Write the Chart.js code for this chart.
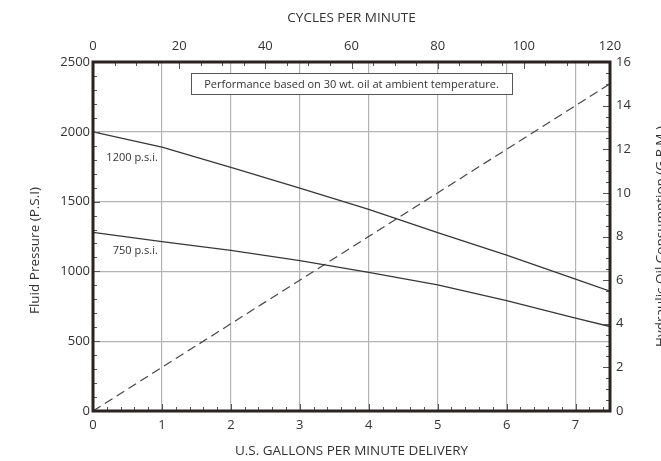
<!DOCTYPE html>
<html>
<head>
<meta charset="utf-8">
<script src="https://cdn.jsdelivr.net/npm/chart.js@4.4.1/dist/chart.umd.min.js"></script>
<style>
  html, body { margin: 0; padding: 0; background: #ffffff; }
  #wrap { width: 661px; height: 461px; }
</style>
</head>
<body>
<div id="wrap"><canvas id="c" width="661" height="461"></canvas></div>
<script>
// ---- data ----
const gpmPoints   = [0, 1, 2, 3, 4, 5, 6, 7, 7.5];
const psi1200     = [2000, 1890, 1745, 1597, 1444, 1277, 1117, 945, 858];
const psi750      = [1280, 1213, 1150, 1077, 993, 903, 790, 665, 605];
const cyclePoints = [0, 120];
const oilGPM      = [0, 15];
const bottomTicks = [0, 1, 2, 3, 4, 5, 6, 7];
const topTicks    = [0, 20, 40, 60, 80, 100, 120];
const leftTicks   = [0, 500, 1000, 1500, 2000, 2500];
const rightTicks  = [0, 2, 4, 6, 8, 10, 12, 14, 16];
const curveLabels = ['1200 p.s.i.', '750 p.s.i.'];
const noteText = 'Performance based on 30 wt. oil at ambient temperature.';
const titles = {
  top: 'CYCLES PER MINUTE',
  bottom: 'U.S. GALLONS PER MINUTE DELIVERY',
  left: 'Fluid Pressure (P.S.I)',
  right: 'Hydraulic Oil Consumption (G.P.M.)'
};

const FONT = '"Open Sans", "Noto Sans", sans-serif';
const INK = '#3a3636';
const TEXT = '#333333';

const toXY = (xs, ys) => xs.map((x, i) => ({x: x, y: ys[i]}));
const plain = (v) => String(v);

const overlay = {
  id: 'overlay',
  afterDraw(chart) {
    const ctx = chart.ctx;
    const a = chart.chartArea;
    const s = chart.scales;
    ctx.save();
    // inner minor/major ticks
    ctx.strokeStyle = '#555';
    ctx.lineWidth = 1;
    const tick = (x1, y1, x2, y2) => { ctx.beginPath(); ctx.moveTo(x1, y1); ctx.lineTo(x2, y2); ctx.stroke(); };
    for (let v = 0; v <= 2500; v += 100) {
      const y = Math.round(s.y.getPixelForValue(v)) + 0.5;
      tick(a.left, y, a.left + (v % 500 === 0 ? 7 : 4), y);
    }
    for (let v = 0; v <= 16.001; v += 0.5) {
      const y = Math.round(s.yR.getPixelForValue(v)) + 0.5;
      tick(a.right, y, a.right - (Math.abs(v % 2) < 0.001 ? 7 : 4), y);
    }
    for (let v = 0; v <= 7.5001; v += 0.2) {
      const x = Math.round(s.x.getPixelForValue(v)) + 0.5;
      const major = Math.abs(v - Math.round(v)) < 0.001;
      tick(x, a.bottom, x, a.bottom - (major ? 7 : 4));
    }
    for (let v = 0; v <= 120; v += 5) {
      const x = Math.round(s.xT.getPixelForValue(v)) + 0.5;
      tick(x, a.top, x, a.top + (v % 20 === 0 ? 7 : 4));
    }
    // frame
    ctx.strokeStyle = '#2b2222';
    ctx.lineWidth = 3;
    ctx.strokeRect(a.left, a.top, a.right - a.left, a.bottom - a.top);

    // note box
    ctx.font = '11px ' + FONT;
    const cx = s.xT.getPixelForValue(60);
    const tw = ctx.measureText(noteText).width;
    const bx1 = cx - tw / 2 - 13, by1 = 73, bw = tw + 26, bh = 21;
    ctx.fillStyle = '#fff';
    ctx.fillRect(bx1, by1, bw, bh);
    ctx.strokeStyle = '#555';
    ctx.lineWidth = 1;
    ctx.strokeRect(Math.round(bx1) + 0.5, by1 + 0.5, Math.round(bw), bh);
    ctx.fillStyle = TEXT;
    ctx.textAlign = 'center';
    ctx.textBaseline = 'middle';
    ctx.fillText(noteText, cx, by1 + bh / 2 + 1);

    // curve labels
    ctx.font = '11px ' + FONT;
    ctx.textAlign = 'right';
    ctx.fillText(curveLabels[0], s.x.getPixelForValue(0.94), s.y.getPixelForValue(1810));
    ctx.fillText(curveLabels[1], s.x.getPixelForValue(0.94), s.y.getPixelForValue(1150));

    // axis titles
    ctx.font = '13.5px ' + FONT;
    ctx.fillStyle = '#333';
    ctx.textAlign = 'center';
    ctx.fillText(titles.top, cx, 18);
    ctx.fillText(titles.bottom, cx, 451);
    const cy = (a.top + a.bottom) / 2;
    ctx.save();
    ctx.translate(35, cy + 14);
    ctx.rotate(-Math.PI / 2);
    ctx.fillText(titles.left, 0, 0);
    ctx.restore();
    ctx.save();
    ctx.translate(661, cy);
    ctx.rotate(-Math.PI / 2);
    ctx.fillText(titles.right, 0, 0);
    ctx.restore();
    ctx.restore();
  }
};

const fixed = (w, h) => (scale) => {
  if (w !== null) scale.width = w;
  if (h !== null) scale.height = h;
};

new Chart(document.getElementById('c'), {
  type: 'line',
  data: {
    datasets: [
      { label: curveLabels[0], data: toXY(gpmPoints, psi1200), xAxisID: 'x', yAxisID: 'y',
        borderColor: INK, borderWidth: 1.3, pointRadius: 0, tension: 0, fill: false },
      { label: curveLabels[1], data: toXY(gpmPoints, psi750), xAxisID: 'x', yAxisID: 'y',
        borderColor: INK, borderWidth: 1.3, pointRadius: 0, tension: 0, fill: false },
      { label: 'Oil consumption', data: toXY(cyclePoints, oilGPM), xAxisID: 'xT', yAxisID: 'yR',
        borderColor: '#4a4646', borderWidth: 1.2, borderDash: [9, 5], pointRadius: 0, tension: 0, fill: false }
    ]
  },
  options: {
    responsive: false,
    animation: false,
    layout: { padding: 0 },
    plugins: { legend: { display: false }, tooltip: { enabled: false } },
    scales: {
      x: {
        type: 'linear', position: 'bottom', min: 0, max: 7.5,
        afterFit: fixed(null, 50),
        afterBuildTicks: (sc) => { sc.ticks = bottomTicks.map(v => ({value: v})); },
        grid: { color: '#b4b4b4', lineWidth: 1.2, drawTicks: false },
        border: { display: false },
        ticks: { padding: 6, color: TEXT, font: { family: FONT, size: 13 }, maxRotation: 0, callback: plain }
      },
      xT: {
        type: 'linear', position: 'top', min: 0, max: 120,
        afterFit: fixed(null, 62),
        afterBuildTicks: (sc) => { sc.ticks = topTicks.map(v => ({value: v})); },
        grid: { display: false, drawTicks: false },
        border: { display: false },
        ticks: { padding: 8, color: TEXT, font: { family: FONT, size: 13 }, maxRotation: 0, callback: plain }
      },
      y: {
        type: 'linear', position: 'left', min: 0, max: 2500,
        afterFit: fixed(93, null),
        afterBuildTicks: (sc) => { sc.ticks = leftTicks.map(v => ({value: v})); },
        grid: { color: '#b4b4b4', lineWidth: 1.2, drawTicks: false },
        border: { display: false },
        ticks: { padding: 3, color: TEXT, font: { family: FONT, size: 13 }, callback: plain }
      },
      yR: {
        type: 'linear', position: 'right', min: 0, max: 16,
        afterFit: fixed(51, null),
        afterBuildTicks: (sc) => { sc.ticks = rightTicks.map(v => ({value: v})); },
        grid: { display: false, drawTicks: false },
        border: { display: false },
        ticks: { padding: 6, color: TEXT, font: { family: FONT, size: 13 }, callback: plain }
      }
    }
  },
  plugins: [overlay]
});
</script>
</body>
</html>
